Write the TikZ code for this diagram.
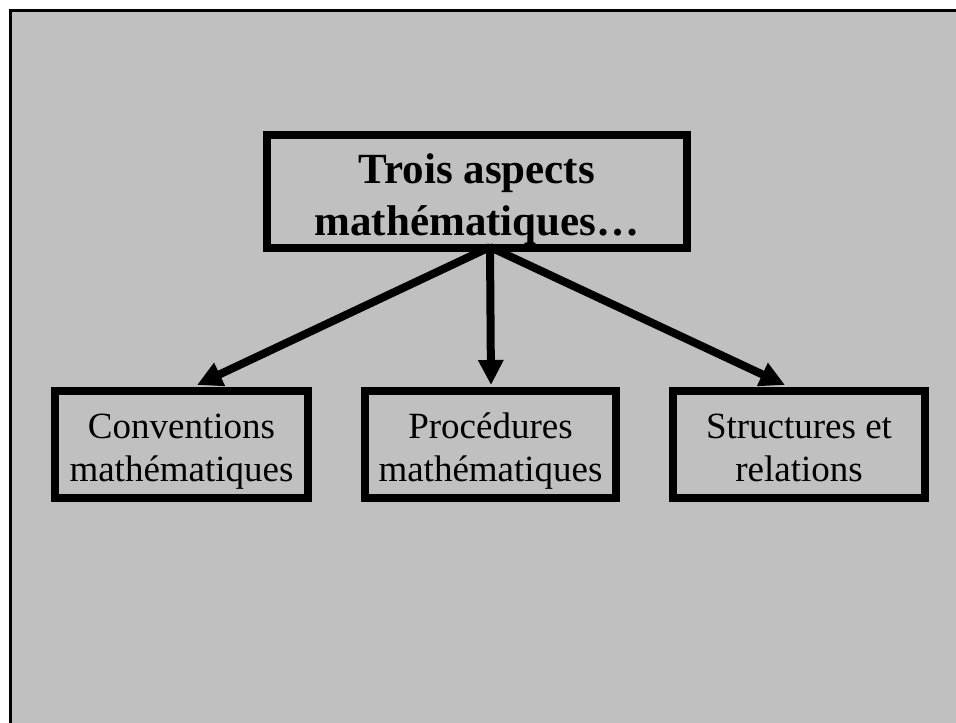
\documentclass[tikz,border=0pt]{standalone}
\usepackage{fontspec}
\setmainfont{Liberation Serif}
\usetikzlibrary{arrows.meta}
\definecolor{bg}{RGB}{192,192,192}
\begin{document}
\begin{tikzpicture}[x=1pt,y=-1pt,
  box/.style={draw=black, line width=8pt, align=center, inner sep=0pt},
  topbox/.style={box, minimum width=420pt, minimum height=113pt,
    font=\fontsize{43pt}{52pt}\selectfont\bfseries},
  subbox/.style={box, minimum width=252pt, minimum height=107pt,
    font=\fontsize{37pt}{43.4pt}\selectfont},
  link/.style={line width=8pt, -{Triangle[width=24pt,length=25pt]}}]
\useasboundingbox (0,0) rectangle (956,723);
\fill[white] (0,0) rectangle (956,723);
\clip (0,0) rectangle (956,723);
\draw[line width=3pt, fill=bg, draw=black] (10.5,10.5) rectangle (990,760);

\node[topbox] (top) at (477,191.5)
  {\rule{0pt}{45.6pt}Trois aspects\\mathématiques…\rule[-10pt]{0pt}{10pt}};
\node[subbox, minimum width=253pt] (conv) at (181.5,444.5)
  {\rule{0pt}{41pt}Conventions\\mathématiques\rule[-10pt]{0pt}{10pt}};
\node[subbox, minimum width=251pt] (proc) at (490.5,444.5)
  {\rule{0pt}{41pt}Procédures\\mathématiques\rule[-10pt]{0pt}{10pt}};
\node[subbox] (struc) at (799,444.5)
  {\rule{0pt}{41pt}Structures et\\relations\rule[-10pt]{0pt}{10pt}};

\coordinate (hub) at ([xshift=13pt,yshift=5pt]top.south);
\draw[link] (hub) -- ([xshift=15.5pt,yshift=2pt]conv.north);
\draw[link] (hub) -- ([xshift=0.5pt,yshift=2pt]proc.north);
\draw[link] (hub) -- ([xshift=-14pt,yshift=2pt]struc.north);
\end{tikzpicture}
\end{document}
